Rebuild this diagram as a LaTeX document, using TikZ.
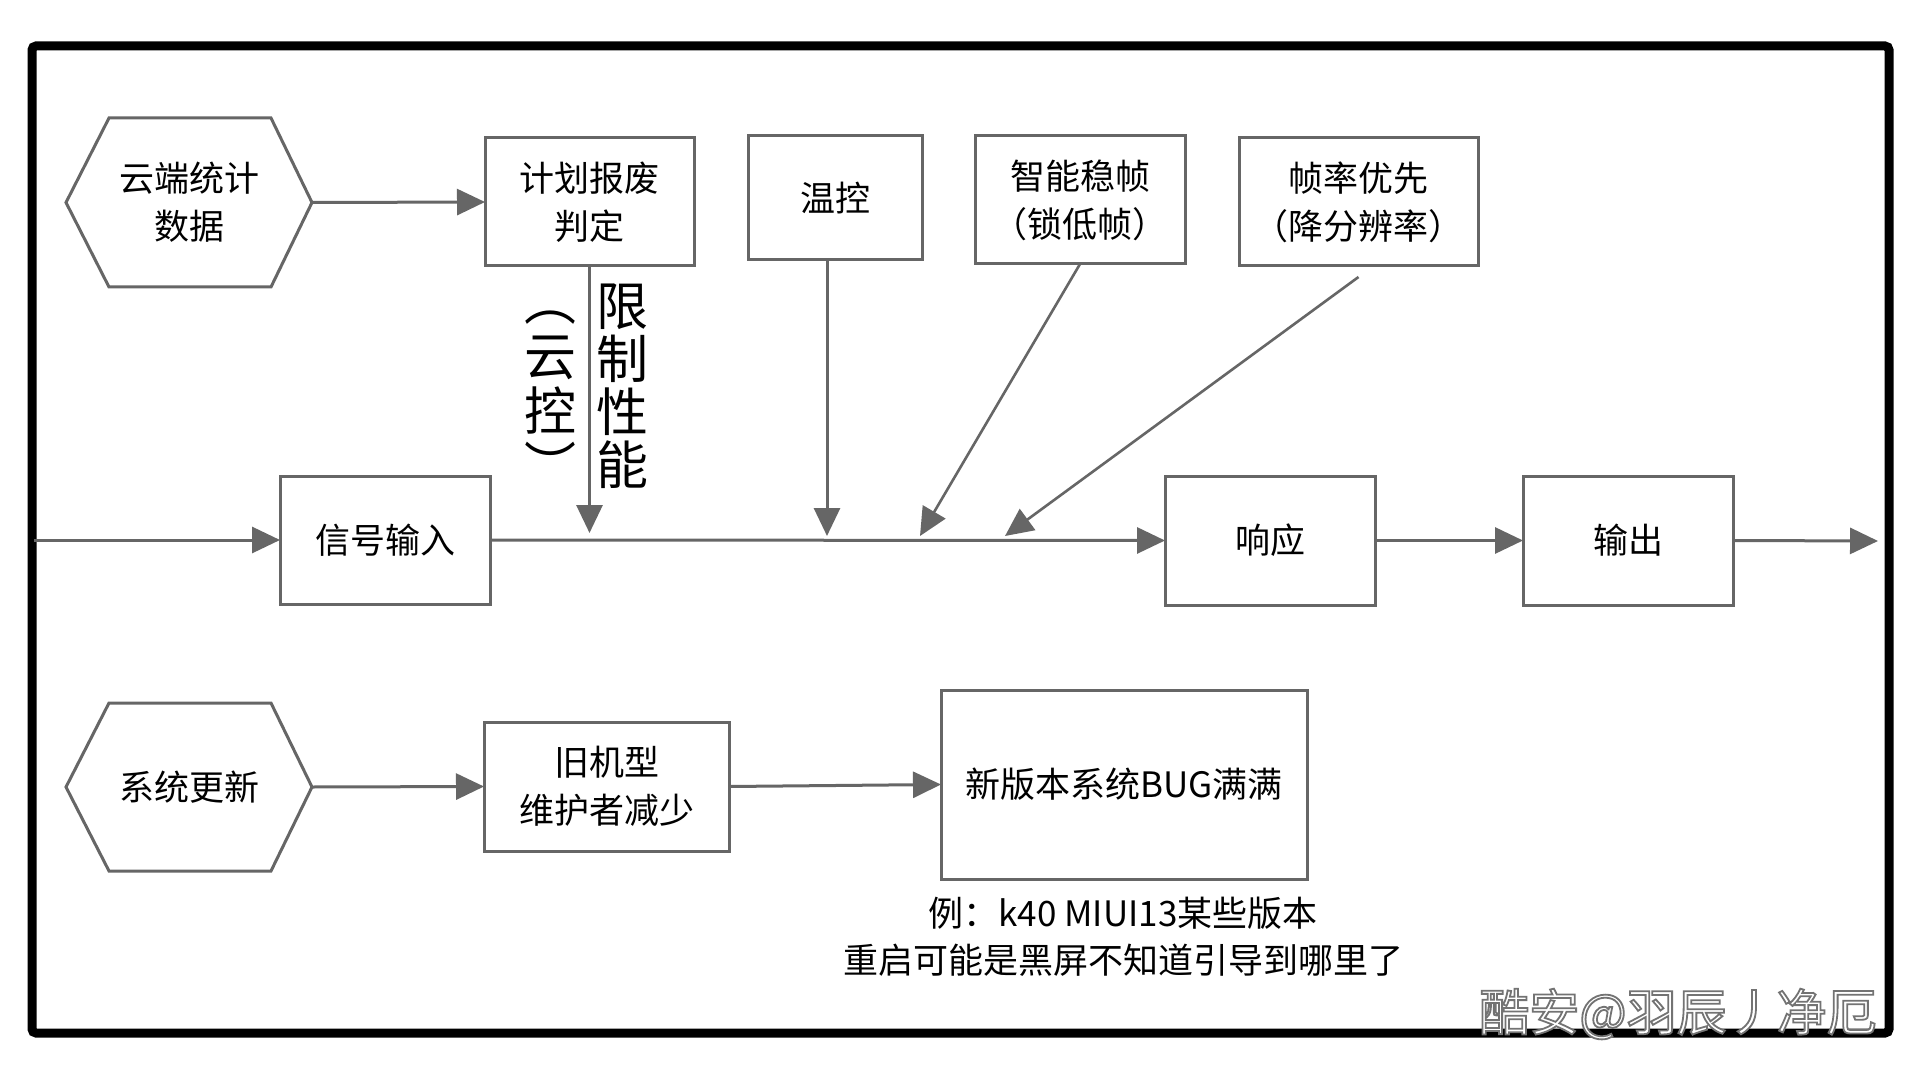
\documentclass[tikz,border=0pt]{standalone}
\usepackage{fontspec}
\setmainfont{Noto Sans CJK SC}
\usetikzlibrary{arrows.meta}
\definecolor{lc}{HTML}{666666}
\begin{document}
\begin{tikzpicture}[x=0.5pt,y=-0.5pt,
  lbl/.style={font=\fontsize{17.5}{24}\selectfont, align=center, inner sep=0pt, outer sep=0pt},
  procbox/.style={lbl, draw=lc, line width=1.5pt, fill=white},
  hexnode/.style={lbl, minimum width=123pt, minimum height=84.5pt},
  hexline/.style={draw=lc, line width=1.5pt, line join=miter},
  arr/.style={draw=lc, line width=1.5pt, -{Triangle[length=14pt,width=13pt]}},
  darr/.style={draw=lc, line width=1.3pt, -{Triangle[length=14pt,width=13pt]}},
  biglbl/.style={font=\fontsize{26}{26.5}\selectfont, align=center, inner sep=0pt, outer sep=0pt},
  wm/.style={font=\fontsize{25}{25}\selectfont, inner sep=0pt}]
\fill[white] (0,0) rectangle (1920,1080);
\useasboundingbox (0,0) rectangle (1920,1080);
% frame
\draw[black, line width=4.5pt, rounded corners=2pt] (32,46) rectangle (1889,1033);

% top row
\node[hexnode] (cloud) at (189,202.5) {云端统计\\数据};
\draw[hexline] (cloud.west) -- ([xshift=21.5pt]cloud.north west) -- ([xshift=-20.5pt]cloud.north east) -- (cloud.east) -- ([xshift=-20.5pt]cloud.south east) -- ([xshift=21.5pt]cloud.south west) -- cycle;
\node[procbox, minimum width=104.5pt, minimum height=64pt] (plan) at (589.5,202) {计划报废\\判定};
\node[procbox, minimum width=87pt, minimum height=62pt] (temp) at (835,198) {温控};
\node[procbox, minimum width=105pt, minimum height=64pt] (smart) at (1080,200) {智能稳帧\\（锁低帧）};
\node[procbox, minimum width=119.5pt, minimum height=64pt] (fps) at (1358.5,202) {帧率优先\\（降分辨率）};

% middle row
\node[procbox, minimum width=105pt, minimum height=64pt] (input) at (385,540) {信号输入};
\node[procbox, minimum width=105pt, minimum height=64.5pt] (resp) at (1270,540.5) {响应};
\node[procbox, minimum width=105pt, minimum height=64.5pt] (out) at (1628,540.5) {输出};

% bottom row
\node[hexnode, minimum height=84pt] (sys) at (189,787) {系统更新};
\draw[hexline] (sys.west) -- ([xshift=21.5pt]sys.north west) -- ([xshift=-20.5pt]sys.north east) -- (sys.east) -- ([xshift=-20.5pt]sys.south east) -- ([xshift=21.5pt]sys.south west) -- cycle;
\node[procbox, minimum width=122.5pt, minimum height=64.5pt] (old) at (606.5,786.5) {旧机型\\维护者减少};
\node[procbox, minimum width=183pt, minimum height=94.5pt] (new) at (1124,784.5) {新版本系统BUG满满};
\node[lbl, font=\fontsize{17.5}{23.5}\selectfont] (note) at (1123,936.5) {例：k40 MIUI13某些版本\\重启可能是黑屏不知道引导到哪里了};

% vertical labels
\node[biglbl] (lim) at (622,386) {限\\制\\性\\能};
\node[biglbl, font=\fontsize{26}{27.5}\selectfont] (cc) at (550,398) {︵\\云\\控\\︶};

% coordinates
\coordinate (in0) at (34,540);
\coordinate (t1) at (589.5,533);
\coordinate (t2) at (827,536);
\coordinate (t3) at (920,536);
\coordinate (t4) at (1005,536);
\coordinate (outend) at (1878,541);

% connectors
\draw[arr] (cloud.east) -- (plan.west);
\draw[arr] (plan.south) -- (t1);
\draw[arr] ([xshift=-4pt]temp.south) -- (t2);
\draw[darr] (smart.south) -- (t3);
\draw[darr] ([yshift=-5.5pt]fps.south) -- (t4);
\draw[arr] (in0) -- (input.west);
\draw[arr] (input.east) -- (resp.west);
\draw[arr] (resp.east) -- (out.west);
\draw[arr] (out.east) -- (outend);
\draw[arr] (sys.east) -- (old.west);
\draw[arr] (old.east) -- (new.west);

% watermark: white fill, gray outline
\node[wm] (wmk) at (1678,1014) {\special{pdf:literal 2 Tr 0.9 w 1 g 0.45 G}酷安@羽辰丿净厄\special{pdf:literal 0 Tr 0 g 0 G}};
\end{tikzpicture}
\end{document}
